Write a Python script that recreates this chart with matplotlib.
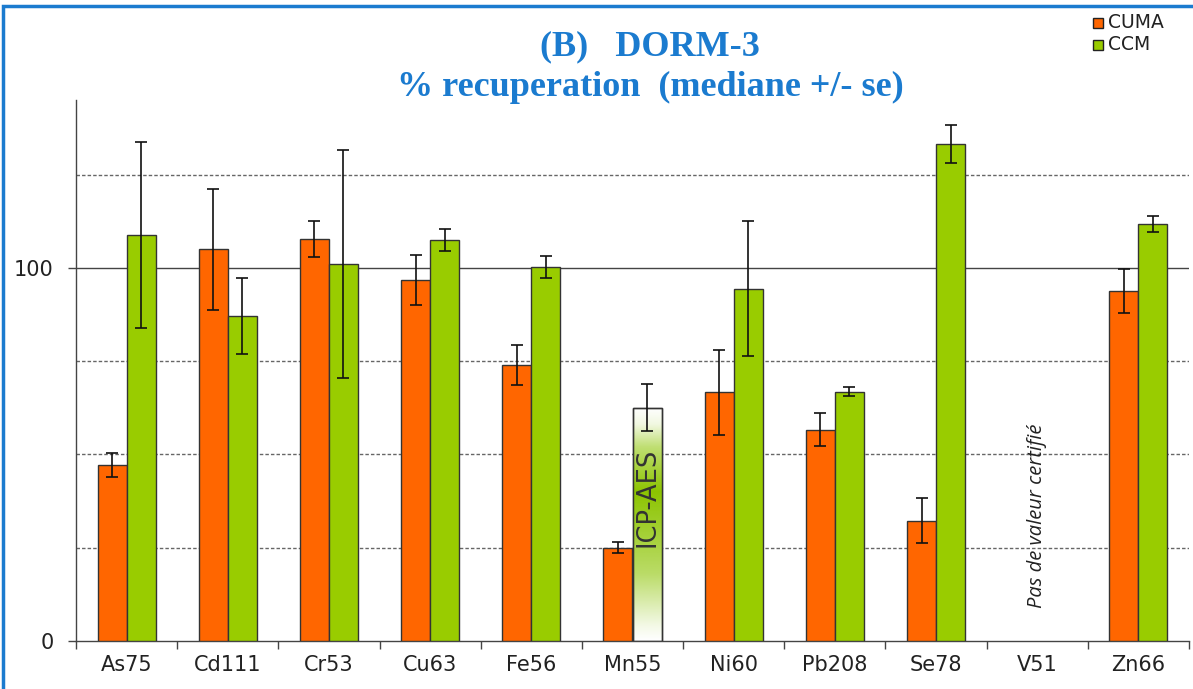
import numpy as np
import matplotlib
matplotlib.use("Agg")
import matplotlib.pyplot as plt
from matplotlib.patches import Rectangle

# data
categories = ["As75", "Cd111", "Cr53", "Cu63", "Fe56", "Mn55",
              "Ni60", "Pb208", "Se78", "V51", "Zn66"]
cuma = [47.2, 105.0, 107.8, 96.8, 74.0, 25.0, 66.7, 56.6, 32.2, np.nan, 93.8]
cuma_se = [3.2, 16.2, 4.8, 6.7, 5.4, 1.5, 11.4, 4.4, 6.0, np.nan, 6.0]
ccm = [108.8, 87.1, 101.1, 107.5, 100.3, 62.5, 94.4, 66.8, 133.2, np.nan, 111.8]
ccm_se = [25.0, 10.3, 30.5, 3.0, 3.0, 6.3, 18.1, 1.2, 5.1, np.nan, 2.1]
icp_index = 5          # Mn55 CCM value measured by ICP-AES
no_value_index = 9     # V51: no certified value

ORANGE = "#FF6600"
GREEN = "#99CC00"
BLUE = "#1B7BCF"
EDGE = "#333333"

fig = plt.figure(figsize=(11.93, 6.89), dpi=100)
ax = fig.add_axes([76 / 1193, 48 / 689, 1113 / 1193, 541 / 689])

x = np.arange(len(categories))
w = 0.287

ccm_colors = [GREEN] * len(categories)
ccm_colors[icp_index] = "white"

ax.bar(x - w / 2, cuma, w, color=ORANGE, edgecolor=EDGE, linewidth=1, zorder=3)
bars_ccm = ax.bar(x + w / 2, ccm, w, color=ccm_colors, edgecolor=EDGE,
                  linewidth=1, zorder=3)

# gradient fill of the ICP-AES bar (white -> green -> white)
icp_bar = bars_ccm[icp_index]
h = ccm[icp_index]
yy = np.linspace(0, h, 300)
alpha = np.interp(yy, [0, 4, 18, 40, 52, 58, h],
                  [0.0, 0.1, 0.6, 1.0, 0.55, 0.12, 0.0])
grad = np.zeros((300, 1, 4))
grad[:, 0, 0] = 0x8C / 255
grad[:, 0, 1] = 0xC4 / 255
grad[:, 0, 2] = 0.0
grad[:, 0, 3] = alpha
x0 = icp_bar.get_x()
im = ax.imshow(grad, extent=[x0, x0 + w, 0, h], origin="lower",
               aspect="auto", zorder=3.5, interpolation="bilinear")
im.set_clip_path(icp_bar)
ax.bar(x0 + w / 2, h, w, color="none", edgecolor=EDGE, linewidth=1, zorder=3.6)

ekw = dict(fmt="none", ecolor="#111111", elinewidth=1.2, capsize=4.5,
           capthick=1.2, zorder=4)
ax.errorbar(x - w / 2, cuma, yerr=cuma_se, **ekw)
ax.errorbar(x + w / 2, ccm, yerr=ccm_se, **ekw)

ax.text(x[icp_index] + w / 2, 38.4, "ICP-AES", rotation=90, ha="center",
        va="center", fontsize=18.5, color="#333333", zorder=5)
ax.text(x[no_value_index], 33.5, "Pas de valeur certifié", rotation=90,
        ha="center", va="center", fontsize=14.5, style="italic",
        family="Open Sans", color="#222222")

# grid lines
for g in [25, 50, 75, 125]:
    ax.axhline(g, color="#666666", lw=1, ls=(0, (2.5, 1.5)), zorder=1)
ax.axhline(100, color="#444444", lw=1, zorder=1)

ax.set_xlim(-0.5, len(categories) - 0.5)
ax.set_ylim(0, 145)
ax.set_yticks([0, 100])
ax.set_yticklabels(["0", "100"])
ax.set_xticks(x)
ax.set_xticklabels(categories)
ax.set_xticks(np.arange(len(categories) + 1) - 0.5, minor=True)
ax.tick_params(axis="x", which="major", length=0, pad=10, labelsize=15,
               colors="#222222")
ax.tick_params(axis="x", which="minor", length=6, width=1, color="#444444")
ax.tick_params(axis="y", length=6, width=1, color="#444444", pad=10,
               labelsize=15, labelcolor="#222222")
for s in ["top", "right"]:
    ax.spines[s].set_visible(False)
for s in ["left", "bottom"]:
    ax.spines[s].set_color("#444444")
    ax.spines[s].set_linewidth(1)

# title
fig.text(650 / 1193, 1 - 47 / 689, "(B)   DORM-3", ha="center", va="center",
         fontsize=26, fontweight="bold", family="Liberation Serif", color=BLUE)
fig.text(650 / 1193, 1 - 87 / 689, "% recuperation  (mediane +/- se)",
         ha="center", va="center", fontsize=26, fontweight="bold",
         family="Liberation Serif", color=BLUE)

# legend
for i, (lab, col) in enumerate([("CUMA", ORANGE), ("CCM", GREEN)]):
    yc = 1 - (23 + 22 * i) / 689
    fig.patches.append(Rectangle((1093 / 1193, yc - 5 / 689), 10 / 1193, 10 / 689,
                                 transform=fig.transFigure, facecolor=col,
                                 edgecolor="#222222", lw=1))
    fig.text(1108 / 1193, yc, lab, ha="left", va="center", fontsize=13.5,
             color="#222222")

# blue frame around the chart
fig.patches.append(Rectangle((3 / 1193, -0.05), 1.1, 1 - 5.5 / 689 + 0.05,
                             transform=fig.transFigure, facecolor="none",
                             edgecolor=BLUE, lw=2.5))

fig.savefig("out.png", dpi=100)
